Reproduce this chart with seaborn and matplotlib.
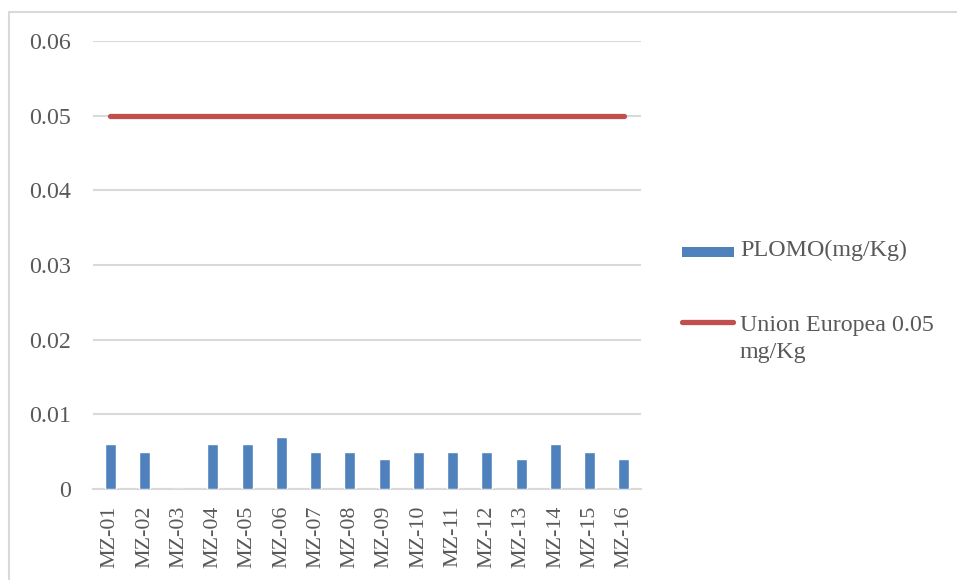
import matplotlib
matplotlib.use("Agg")
import matplotlib.pyplot as plt
from matplotlib.lines import Line2D
from matplotlib.patches import Rectangle
import seaborn as sns
import pandas as pd

muestras = ["MZ-01", "MZ-02", "MZ-03", "MZ-04", "MZ-05", "MZ-06", "MZ-07", "MZ-08",
            "MZ-09", "MZ-10", "MZ-11", "MZ-12", "MZ-13", "MZ-14", "MZ-15", "MZ-16"]
plomo = [0.006, 0.005, 0.0, 0.006, 0.006, 0.007, 0.005, 0.005,
         0.004, 0.005, 0.005, 0.005, 0.004, 0.006, 0.005, 0.004]
limite_ue = [0.05] * len(muestras)
y_ticks = [0, 0.01, 0.02, 0.03, 0.04, 0.05, 0.06]
y_tick_labels = ["0", "0.01", "0.02", "0.03", "0.04", "0.05", "0.06"]
etiqueta_plomo = "PLOMO(mg/Kg)"
etiqueta_ue = ["Union Europea 0.05", "mg/Kg"]

df = pd.DataFrame({"muestra": muestras, "plomo": plomo, "ue": limite_ue})

sns.set_theme(style="white")
plt.rcParams["font.family"] = ["Liberation Serif", "DejaVu Serif"]

AZUL = "#4F81BD"
ROJO = "#C0504D"
GRIS_TXT = "#595959"
GRIS_LIN = "#D9D9D9"
FS = 17.3
W, H = 957, 580


def fx(px):
    return px / W


def fy(py):
    return 1 - py / H


fig = plt.figure(figsize=(W / 100, H / 100), dpi=100)
ax = fig.add_axes([fx(93), fy(489), (641 - 93) / W, (489 - 41) / H])

sns.barplot(data=df, x="muestra", y="plomo", color=AZUL, width=0.32,
            saturation=1, ax=ax, zorder=3)
sns.lineplot(data=df, x="muestra", y="ue", color=ROJO, linewidth=3.8,
             ax=ax, zorder=4, solid_capstyle="round")

ax.set_xlim(-0.5, len(muestras) - 0.5)
ax.set_ylim(0, 0.06)
ax.set_yticks(y_ticks)
ax.set_yticklabels(y_tick_labels)
ax.grid(axis="y", color=GRIS_LIN, linewidth=1.5, zorder=0)
ax.set_axisbelow(True)
for s in ["top", "right", "left"]:
    ax.spines[s].set_visible(False)
ax.spines["bottom"].set_color(GRIS_LIN)
ax.spines["bottom"].set_linewidth(1.5)
ax.set_xlabel("")
ax.set_ylabel("")
ax.tick_params(axis="y", length=0, pad=16, labelsize=FS, labelcolor=GRIS_TXT)
ax.tick_params(axis="x", length=0, pad=12, labelsize=15.8, labelcolor=GRIS_TXT,
               labelrotation=90)

# legend, drawn beside the plot area
fig.add_artist(Rectangle((fx(682), fy(257)), (734 - 682) / W, 10 / H,
                         transform=fig.transFigure, facecolor=AZUL,
                         edgecolor="none"))
fig.text(fx(740), fy(256), etiqueta_plomo, fontsize=FS, color=GRIS_TXT,
         va="baseline", ha="left")
fig.add_artist(Line2D([fx(682), fx(733)], [fy(322), fy(322)],
                      transform=fig.transFigure, color=ROJO, linewidth=3.8,
                      solid_capstyle="round"))
fig.text(fx(740), fy(331), etiqueta_ue[0], fontsize=FS, color=GRIS_TXT,
         va="baseline", ha="left")
fig.text(fx(740), fy(358), etiqueta_ue[1], fontsize=FS, color=GRIS_TXT,
         va="baseline", ha="left")

# chart area border
fig.add_artist(Line2D([fx(9), 1], [fy(12), fy(12)],
                      transform=fig.transFigure, color=GRIS_LIN, linewidth=1.5))
fig.add_artist(Line2D([fx(9), fx(9)], [0, fy(12)],
                      transform=fig.transFigure, color=GRIS_LIN, linewidth=1.5))

fig.savefig("out.png", dpi=100)
